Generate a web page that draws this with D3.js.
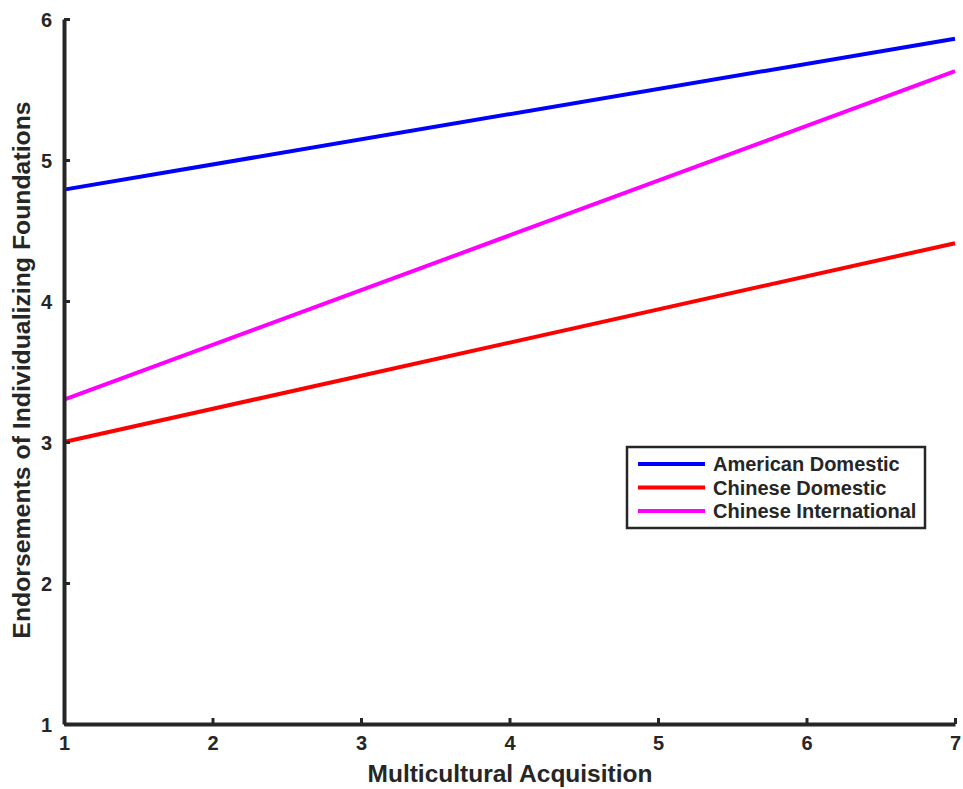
<!DOCTYPE html>
<html><head><meta charset="utf-8">
<script src="https://cdn.jsdelivr.net/npm/d3@7"></script>
<style>body{margin:0;background:#fff}svg{display:block}text{font-family:"Liberation Sans",Arial,sans-serif;font-weight:bold;fill:#262626}</style>
</head><body>
<script>
const seriesNames = ["American Domestic", "Chinese Domestic", "Chinese International"];
const seriesColors = ["#0000ff", "#ff0000", "#ff00ff"];
const xEnds = [1, 7];
const americanDomestic = [4.79, 5.86];
const chineseDomestic = [3.0, 4.41];
const chineseInternational = [3.30, 5.63];
const xTicks = [1, 2, 3, 4, 5, 6, 7];
const yTicks = [1, 2, 3, 4, 5, 6];
const xLabel = "Multicultural Acquisition";
const yLabel = "Endorsements of Individualizing Foundations";

const W = 963, H = 789;
const svg = d3.select("body").append("svg").attr("width", W).attr("height", H);
const x = d3.scaleLinear().domain([1, 7]).range([64, 955]);
const y = d3.scaleLinear().domain([1, 6]).range([724, 19]);
const axisColor = "#262626";

// lines
const allSeries = [americanDomestic, chineseDomestic, chineseInternational];
const line = d3.line().x((d, i) => x(xEnds[i])).y(d => y(d));
allSeries.forEach((s, k) => {
  svg.append("path").datum(s).attr("d", line).attr("fill", "none")
    .attr("stroke", seriesColors[k]).attr("stroke-width", 4);
});

// axes
const xAxis = d3.axisBottom(x).tickValues(xTicks).tickSizeInner(-6).tickSizeOuter(0).tickPadding(14).tickFormat(d3.format("d"));
const gx = svg.append("g").attr("transform", `translate(0,${y(1)})`).call(xAxis);
const yAxis = d3.axisLeft(y).tickValues(yTicks).tickSizeInner(-6).tickSizeOuter(0).tickPadding(14).tickFormat(d3.format("d"));
const gy = svg.append("g").attr("transform", `translate(${x(1)},0)`).call(yAxis);
[gx, gy].forEach(g => {
  g.attr("font-size", null).attr("font-family", null);
  g.select(".domain").attr("stroke", axisColor).attr("stroke-width", 4);
  g.selectAll(".tick line").attr("stroke", axisColor).attr("stroke-width", 3);
  g.selectAll(".tick text").attr("fill", axisColor).style("font-size", "20px");
});
gx.selectAll(".tick text").attr("y", 12);
gy.selectAll(".tick text").attr("dy", "0.35em").attr("x", -12);

// axis labels
svg.append("text").attr("x", 510).attr("y", 782).attr("text-anchor", "middle").style("font-size", "24.5px").text(xLabel);
svg.append("text").attr("transform", `translate(30,370) rotate(-90)`).attr("text-anchor", "middle").style("font-size", "24.8px").text(yLabel);

// legend
const lg = svg.append("g");
lg.append("rect").attr("x", 627).attr("y", 447).attr("width", 298).attr("height", 81)
  .attr("fill", "#fff").attr("stroke", axisColor).attr("stroke-width", 2.5);
seriesNames.forEach((n, i) => {
  const yy = 464 + i * 23.5;
  lg.append("line").attr("x1", 638).attr("x2", 705).attr("y1", yy).attr("y2", yy)
    .attr("stroke", seriesColors[i]).attr("stroke-width", 4);
  lg.append("text").attr("x", 713).attr("y", yy).attr("dy", "0.35em").style("font-size", "20px").attr("fill", "#000").text(n);
});
</script>
</body></html>
